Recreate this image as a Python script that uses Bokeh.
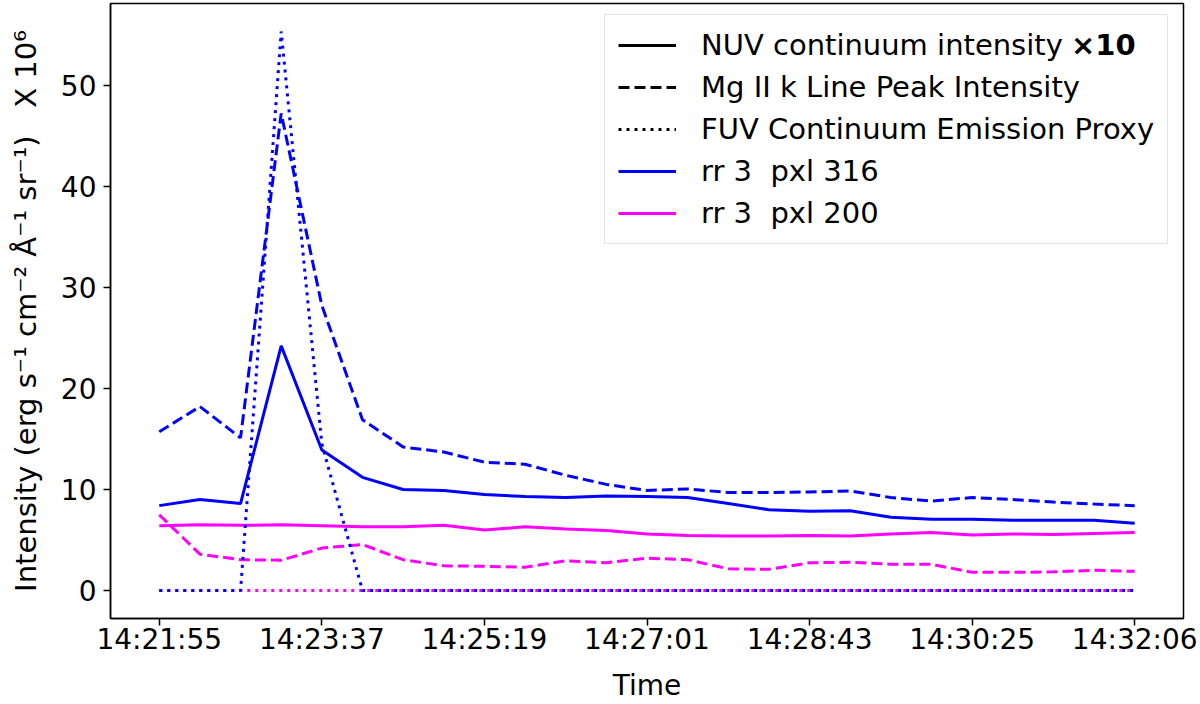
from bokeh.plotting import figure
from bokeh.models import Range1d, FixedTicker, Legend, LegendItem, ColumnDataSource
from bokeh.embed import file_html
from bokeh.resources import INLINE

# ---- data -------------------------------------------------------------
time_labels = ["14:21:55", "14:23:37", "14:25:19", "14:27:01", "14:28:43", "14:30:25", "14:32:06"]
tick_index = [0, 4, 8, 12, 16, 20, 24]
idx = list(range(25))

nuv_316 = [8.4, 9.0, 8.6, 24.2, 13.9, 11.2, 10.0, 9.9, 9.5, 9.3, 9.2, 9.35, 9.3, 9.2, 8.6,
           8.0, 7.85, 7.9, 7.25, 7.05, 7.05, 6.95, 6.95, 6.95, 6.65]
mg_316 = [15.7, 18.2, 15.1, 47.2, 28.2, 16.9, 14.2, 13.7, 12.7, 12.5, 11.4, 10.5, 9.9, 10.05, 9.7,
          9.7, 9.75, 9.85, 9.2, 8.85, 9.2, 9.0, 8.75, 8.55, 8.4]
fuv_316 = [0, 0, 0, 55.3, 14.5, 0, 0, 0, 0, 0, 0, 0, 0, 0, 0, 0, 0, 0, 0, 0, 0, 0, 0, 0, 0]

nuv_200 = [6.4, 6.5, 6.45, 6.5, 6.4, 6.3, 6.3, 6.45, 6.0, 6.3, 6.1, 5.95, 5.6, 5.45, 5.4,
           5.4, 5.45, 5.4, 5.6, 5.75, 5.5, 5.6, 5.55, 5.65, 5.75]
mg_200 = [7.5, 3.6, 3.05, 3.0, 4.2, 4.55, 3.05, 2.45, 2.4, 2.3, 2.95, 2.75, 3.2, 3.05, 2.15,
          2.1, 2.75, 2.8, 2.6, 2.6, 1.8, 1.8, 1.85, 2.0, 1.9]
fuv_200 = [0] * 25

FONT = "DejaVu Sans"
FS = "28px"
LFS = "29px"
BLUE = "#0000ff"
MAGENTA = "#ff00ff"

p = figure(width=1200, height=704, output_backend="svg", toolbar_location=None,
           x_range=Range1d(-1.2, 25.2), y_range=Range1d(-2.765, 58.07),
           min_border_left=110, min_border_right=17, min_border_top=3, min_border_bottom=86)
p.background_fill_color = "white"
p.border_fill_color = "white"
p.xgrid.visible = False
p.ygrid.visible = False
p.outline_line_color = "black"
p.outline_line_width = 1.5
p.outline_line_alpha = 1.0

# ---- series -------------------------------------------------------------
src = ColumnDataSource(dict(x=idx, nuv_316=nuv_316, mg_316=mg_316, fuv_316=fuv_316,
                            nuv_200=nuv_200, mg_200=mg_200, fuv_200=fuv_200))
LW = 3
DASH = "11 5"
DOT = "3 5"

p.line("x", "fuv_200", source=src, color=MAGENTA, line_width=LW, line_dash=DOT)
p.line("x", "mg_200", source=src, color=MAGENTA, line_width=LW, line_dash=DASH)
r_m = p.line("x", "nuv_200", source=src, color=MAGENTA, line_width=LW)
p.line("x", "fuv_316", source=src, color=BLUE, line_width=LW, line_dash=DOT)
p.line("x", "mg_316", source=src, color=BLUE, line_width=LW, line_dash=DASH)
r_b = p.line("x", "nuv_316", source=src, color=BLUE, line_width=LW)

# legend proxies (black style keys, nothing drawn in the plot)
nan_src = ColumnDataSource(dict(x=[float("nan")], y=[float("nan")]))
k_solid = p.line("x", "y", source=nan_src, color="black", line_width=LW)
k_dash = p.line("x", "y", source=nan_src, color="black", line_width=LW, line_dash=DASH)
k_dot = p.line("x", "y", source=nan_src, color="black", line_width=LW, line_dash=DOT)
k_none = p.line("x", "y", source=nan_src, color="black", line_alpha=0)

legend = Legend(items=[
    LegendItem(label="NUV continuum intensity", renderers=[k_solid]),
    LegendItem(label="Mg II k Line Peak Intensity", renderers=[k_dash]),
    LegendItem(label="FUV Continuum Emission Proxy", renderers=[k_dot]),
    LegendItem(label="rr 3\u00a0 pxl 316", renderers=[r_b]),
    LegendItem(label="rr 3\u00a0 pxl 200", renderers=[r_m]),
], location=(494, 374))
legend.label_text_font = FONT
legend.label_text_font_size = LFS
legend.label_text_color = "black"
legend.glyph_width = 58
legend.glyph_height = 34
legend.label_height = 34
legend.spacing = 8
legend.padding = 13
legend.margin = 0
legend.label_standoff = 25
legend.border_line_color = "#cccccc"
legend.border_line_width = 1.5
legend.background_fill_color = "white"
legend.background_fill_alpha = 1.0
p.add_layout(legend, "center")

# bold "×10" that follows the first legend label
legend_x10 = Legend(items=[LegendItem(label="×10", renderers=[k_none])], location=(961, 556))
legend_x10.label_text_font = FONT
legend_x10.label_text_font_size = LFS
legend_x10.label_text_font_style = "bold"
legend_x10.label_text_color = "black"
legend_x10.glyph_width = 0
legend_x10.glyph_height = 34
legend_x10.label_height = 34
legend_x10.label_standoff = 0
legend_x10.padding = 0
legend_x10.margin = 0
legend_x10.spacing = 0
legend_x10.border_line_alpha = 0
legend_x10.background_fill_alpha = 0
p.add_layout(legend_x10, "center")

# ---- axes -------------------------------------------------------------
xa = p.xaxis[0]
xa.ticker = FixedTicker(ticks=tick_index)
xa.major_label_overrides = {t: lab for t, lab in zip(tick_index, time_labels)}
xa.axis_label = "Time"
ya = p.yaxis[0]
ya.ticker = FixedTicker(ticks=[0, 10, 20, 30, 40, 50])
ya.axis_label = "Intensity (erg s⁻¹ cm⁻² Å⁻¹ sr⁻¹)\u00a0\u00a0 X 10⁶"

for ax in (xa, ya):
    ax.axis_line_color = "black"
    ax.axis_line_width = 1.5
    ax.major_tick_line_width = 1.5
    ax.major_tick_out = 7
    ax.major_tick_in = 0
    ax.minor_tick_out = 0
    ax.minor_tick_in = 0
    ax.major_label_text_font = FONT
    ax.major_label_text_font_size = FS
    ax.major_label_text_color = "black"
    ax.axis_label_text_font = FONT
    ax.axis_label_text_font_size = FS
    ax.axis_label_text_font_style = "normal"
    ax.axis_label_text_color = "black"

ya.axis_label_text_font_size = "29px"
xa.major_label_standoff = -3
xa.axis_label_standoff = 10
ya.major_label_standoff = 7
ya.axis_label_standoff = 15

open("out.html", "w").write(file_html(p, INLINE))
